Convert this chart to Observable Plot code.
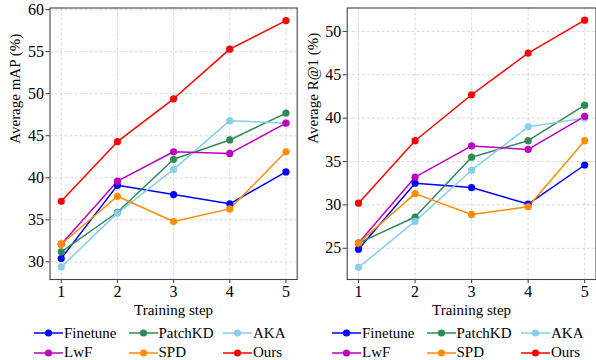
<!DOCTYPE html>
<html>
<head>
<meta charset="utf-8">
<script src="https://cdn.jsdelivr.net/npm/d3@7"></script>
<script src="https://cdn.jsdelivr.net/npm/@observablehq/plot@0.6"></script>
<style>
  body { margin: 0; background: #fff; }
  #root { position: relative; width: 596px; height: 360px; font-family: "Liberation Serif", serif; }
  .panel { position: absolute; top: 0; width: 298px; }
  .legend { position: absolute; top: 323.5px; display: grid; grid-template-columns: 94.5px 94.5px 94.5px; grid-auto-rows: 19.5px; font-size: 15px; color: #000; }
  .item { display: flex; align-items: center; white-space: nowrap; }
  .item svg { margin-right: 1px; }
</style>
</head>
<body>
<div id="root"></div>
<script>
const steps = [1, 2, 3, 4, 5];
const methods = ["Finetune", "PatchKD", "AKA", "LwF", "SPD", "Ours"];
const colors = ["#0000ff", "#2e8b57", "#87ceeb", "#bf00bf", "#ff8c00", "#ff0000"];

// Average mAP (%)
const mapFinetune = [30.4, 39.1, 38.0, 36.9, 40.7];
const mapPatchKD  = [31.2, 35.9, 42.2, 44.5, 47.7];
const mapAKA      = [29.4, 35.8, 41.0, 46.8, 46.5];
const mapLwF      = [32.1, 39.6, 43.1, 42.9, 46.5];
const mapSPD      = [32.1, 37.8, 34.8, 36.3, 43.1];
const mapOurs     = [37.2, 44.3, 49.4, 55.3, 58.7];

// Average R@1 (%)
const r1Finetune = [24.9, 32.5, 32.0, 30.1, 34.6];
const r1PatchKD  = [25.6, 28.6, 35.5, 37.4, 41.5];
const r1AKA      = [22.8, 28.1, 34.0, 39.0, 40.0];
const r1LwF      = [25.6, 33.2, 36.8, 36.4, 40.2];
const r1SPD      = [25.6, 31.3, 28.9, 29.8, 37.4];
const r1Ours     = [30.2, 37.4, 42.7, 47.5, 51.3];

const mapTicks = [30, 35, 40, 45, 50, 55, 60];
const r1Ticks = [25, 30, 35, 40, 45, 50];

function toRows(seriesList) {
  const rows = [];
  seriesList.forEach((vals, i) => {
    vals.forEach((v, j) => rows.push({ method: methods[i], step: steps[j], value: v }));
  });
  return rows;
}

const font = "'Liberation Serif', serif";

function panel(rows, yDomain, yTicks, yLabel, marginLeft, marginRight) {
  return Plot.plot({
    width: 298,
    height: 320,
    marginLeft, marginRight,
    marginTop: 7.5,
    marginBottom: 41,
    style: { fontFamily: font, fontSize: "16px", fontWeight: "normal", color: "#000", background: "#fff" },
    x: { domain: [0.8, 5.2] },
    y: { domain: yDomain },
    color: { domain: methods, range: colors },
    marks: [
      Plot.gridX(steps, { stroke: "#cfcfcf", strokeOpacity: 1, strokeDasharray: "3,2", strokeWidth: 0.8 }),
      Plot.gridY(yTicks, { stroke: "#cfcfcf", strokeOpacity: 1, strokeDasharray: "3,2", strokeWidth: 0.8 }),
      Plot.axisX(steps, { tickSize: 4, tickPadding: 2, tickFormat: d => String(d), label: null, stroke: "#333", fontSize: 16 }),
      Plot.axisY(yTicks, { tickSize: 4, tickPadding: 2, tickFormat: d => String(d), label: null, stroke: "#333", fontSize: 16 }),
      Plot.line(rows, { x: "step", y: "value", z: "method", stroke: "method", strokeWidth: 1.5 }),
      Plot.dot(rows, { x: "step", y: "value", fill: "method", r: 3.6, stroke: null }),
      Plot.frame({ stroke: "#444", strokeWidth: 1.1 }),
      Plot.text(["Training step"], { frameAnchor: "bottom", lineAnchor: "middle", dy: 31, fontSize: 15, fill: "#000" }),
      Plot.text([yLabel], { frameAnchor: "left", lineAnchor: "middle", rotate: -90, dx: -(marginLeft - 15), fontSize: 15, fill: "#000" })
    ]
  });
}

function legend() {
  const div = document.createElement("div");
  div.className = "legend";
  methods.forEach((m, i) => {
    const item = document.createElement("div");
    item.className = "item";
    item.innerHTML = `<svg width="29" height="10"><line x1="0" x2="29" y1="5" y2="5" stroke="${colors[i]}" stroke-width="1.5"/><circle cx="14.5" cy="5" r="3.6" fill="${colors[i]}"/></svg><span>${m}</span>`;
    div.appendChild(item);
  });
  return div;
}

const root = document.getElementById("root");

const p1 = document.createElement("div");
p1.className = "panel"; p1.style.left = "0px";
p1.appendChild(panel(toRows([mapFinetune, mapPatchKD, mapAKA, mapLwF, mapSPD, mapOurs]), [27.9, 60.2], mapTicks, "Average mAP (%)", 49.5, 1.3));
const l1 = legend(); l1.style.left = "34px";
root.appendChild(p1); root.appendChild(l1);

const p2 = document.createElement("div");
p2.className = "panel"; p2.style.left = "298px";
p2.appendChild(panel(toRows([r1Finetune, r1PatchKD, r1AKA, r1LwF, r1SPD, r1Ours]), [21.4, 52.7], r1Ticks, "Average R@1 (%)", 48.7, 0.5));
const l2 = legend(); l2.style.left = "332px";
root.appendChild(p2); root.appendChild(l2);
</script>
</body>
</html>
